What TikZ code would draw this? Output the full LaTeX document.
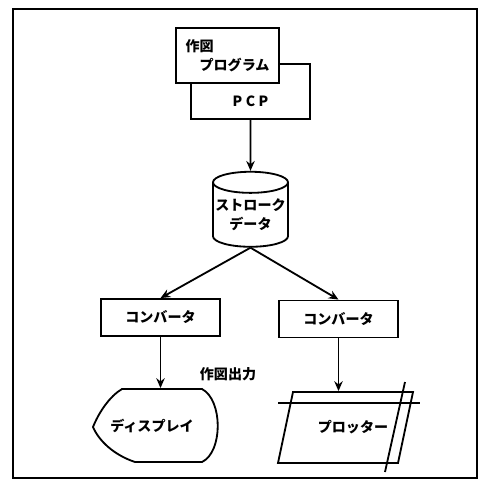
\documentclass[tikz,border=0pt]{standalone}
\usepackage{fontspec}
\setmainfont{Noto Sans CJK JP}
\usepackage{tikz}
\usetikzlibrary{shapes.geometric, arrows.meta, calc}

\begin{document}
\begin{tikzpicture}[
    x=0.025cm, y=-0.025cm,
    line width=1.3pt,
    txt/.style={font=\fontsize{10}{13.5}\selectfont\bfseries, inner sep=0pt},
    box/.style={rectangle, draw, fill=white, txt, minimum width=2.975cm, minimum height=0.925cm},
    progbox/.style={rectangle, draw, fill=white, txt, align=left, minimum width=2.575cm, minimum height=1.375cm},
    databox/.style={cylinder, shape border rotate=90, draw, fill=white, txt, align=center, aspect=0.3, minimum width=1.875cm, minimum height=1.875cm},
    shapetext/.style={txt, minimum width=2.95cm, minimum height=1.85cm},
    arrow/.style={-{Stealth[length=7pt, width=6pt]}}
]
    \useasboundingbox (0,0) rectangle (480,480);

    % Frame
    \draw[line width=1.4pt] (13,9) rectangle (477,478);

    % Nodes
    \node[box, minimum height=1.375cm] (pcp) at (250.5,91.5) {};
    \node[txt] (pcptext) at (250.5,101) {P\hspace{0.25em}C\hspace{0.25em}P};
    \node[progbox] (prog) at (227.5,55.5) {作図\\\hspace*{1em}プログラム};

    \node[databox] (stroke) at (250.5,215) {ストローク\\データ};

    \node[box] (convL) at (160.5,317.5) {コンバータ};
    \node[box] (convR) at (338.5,319) {コンバータ};

    \node[txt] (outlabel) at (228,374) {作図出力};

    \node[shapetext] (disp) at (152,426) {ディスプレイ};
    \node[shapetext, minimum height=1.775cm] (plot) at (353,427.5) {プロッター};

    % Display outline
    \draw (93,427) .. controls (99,412) and (110,396) .. (122,389) -- (202,389)
        .. controls (223,400) and (223,452) .. (202,462) -- (135,462)
        .. controls (114,455) and (99,441) .. cycle;

    % Plotter outline
    \draw (293,392) -- (413,392) -- (398,463) -- (278,463) -- cycle;
    \draw (278,403) -- (420,403);
    \draw (405,382) -- (385,472);

    % Arrows
    \draw[arrow] (pcp.south) -- (stroke.north);
    \draw[arrow] (stroke.south) -- (convL.north);
    \draw[arrow] (stroke.south) -- (convR.north);
    \draw[arrow] (convL.south) -- (convL.south |- disp.north);
    \draw[arrow] (convR.south) -- (convR.south |- plot.north);

\end{tikzpicture}
\end{document}
